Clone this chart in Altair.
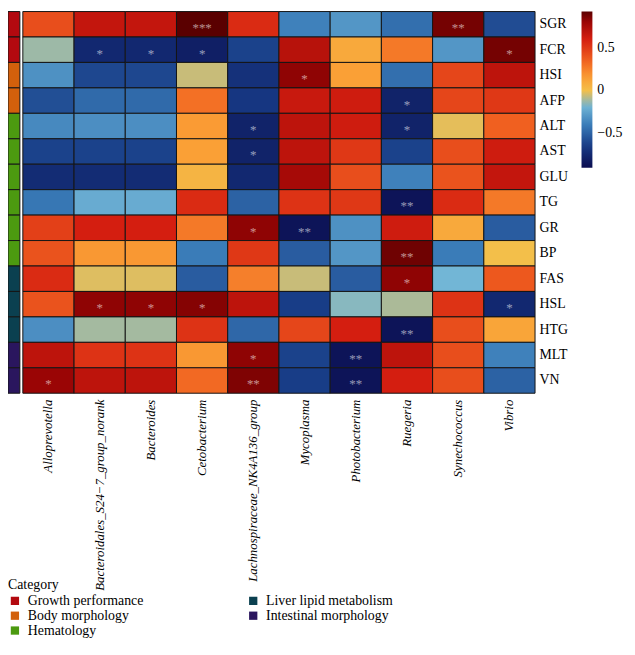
import altair as alt
import pandas as pd

genera = ["Alloprevotella", "Bacteroidales_S24−7_group_norank", "Bacteroides", "Cetobacterium",
          "Lachnospiraceae_NK4A136_group", "Mycoplasma", "Photobacterium", "Ruegeria",
          "Synechococcus", "Vibrio"]
indices = ["SGR", "FCR", "HSI", "AFP", "ALT", "AST", "GLU", "TG", "GR", "BP",
           "FAS", "HSL", "HTG", "MLT", "VN"]
row_category = (["Growth performance"] * 2 + ["Body morphology"] * 2 + ["Hematology"] * 6
                + ["Liver lipid metabolism"] * 3 + ["Intestinal morphology"] * 2)

# correlation values per index (columns in the order of `genera`)
r_SGR = [0.42, 0.66, 0.66, 0.92, 0.55, -0.38, -0.30, -0.45, 0.87, -0.58]
r_FCR = [-0.12, -0.75, -0.75, -0.80, -0.62, 0.70, 0.10, 0.27, -0.30, 0.87]
r_HSI = [-0.32, -0.60, -0.60, -0.06, -0.70, 0.82, 0.14, -0.45, 0.45, 0.68]
r_AFP = [-0.57, -0.47, -0.47, 0.30, -0.67, 0.64, 0.62, -0.78, 0.45, 0.50]
r_ALT = [-0.35, -0.33, -0.33, 0.16, -0.78, 0.68, 0.62, -0.78, -0.02, 0.35]
r_AST = [-0.62, -0.62, -0.62, 0.14, -0.78, 0.68, 0.50, -0.62, 0.42, 0.62]
r_GLU = [-0.73, -0.73, -0.73, 0.05, -0.75, 0.76, 0.42, -0.38, 0.40, 0.66]
r_TG = [-0.42, -0.22, -0.22, 0.55, -0.50, 0.52, 0.50, -0.86, 0.55, 0.27]
r_GR = [0.47, 0.60, 0.60, 0.27, 0.82, -0.86, -0.32, 0.62, 0.10, -0.52]
r_BP = [0.40, 0.17, 0.17, -0.40, 0.50, -0.52, -0.30, 0.88, -0.40, 0.00]
r_FAS = [0.55, -0.03, -0.03, -0.52, 0.25, -0.06, -0.52, 0.82, -0.18, 0.38]
r_HSL = [0.40, 0.82, 0.82, 0.84, 0.68, -0.64, -0.15, -0.10, 0.52, -0.75]
r_HTG = [-0.33, -0.11, -0.11, 0.52, -0.48, 0.45, 0.60, -0.86, 0.42, 0.12]
r_MLT = [0.68, 0.52, 0.52, 0.17, 0.82, -0.62, -0.86, 0.68, 0.42, -0.38]
r_VN = [0.80, 0.68, 0.68, 0.32, 0.85, -0.64, -0.86, 0.60, 0.42, -0.50]
rows_values = [r_SGR, r_FCR, r_HSI, r_AFP, r_ALT, r_AST, r_GLU, r_TG, r_GR, r_BP,
               r_FAS, r_HSL, r_HTG, r_MLT, r_VN]

stars = [
    ("SGR", "Cetobacterium", "***"), ("SGR", "Synechococcus", "**"),
    ("FCR", "Bacteroidales_S24−7_group_norank", "*"), ("FCR", "Bacteroides", "*"),
    ("FCR", "Cetobacterium", "*"), ("FCR", "Vibrio", "*"),
    ("HSI", "Mycoplasma", "*"),
    ("AFP", "Ruegeria", "*"),
    ("ALT", "Lachnospiraceae_NK4A136_group", "*"), ("ALT", "Ruegeria", "*"),
    ("AST", "Lachnospiraceae_NK4A136_group", "*"),
    ("TG", "Ruegeria", "**"),
    ("GR", "Lachnospiraceae_NK4A136_group", "*"), ("GR", "Mycoplasma", "**"),
    ("BP", "Ruegeria", "**"),
    ("FAS", "Ruegeria", "*"),
    ("HSL", "Bacteroidales_S24−7_group_norank", "*"), ("HSL", "Bacteroides", "*"),
    ("HSL", "Cetobacterium", "*"), ("HSL", "Vibrio", "*"),
    ("HTG", "Ruegeria", "**"),
    ("MLT", "Lachnospiraceae_NK4A136_group", "*"), ("MLT", "Photobacterium", "**"),
    ("VN", "Alloprevotella", "*"), ("VN", "Lachnospiraceae_NK4A136_group", "**"),
    ("VN", "Photobacterium", "**"),
]

category_order = ["Growth performance", "Body morphology", "Hematology",
                  "Liver lipid metabolism", "Intestinal morphology"]
category_colors = ["#B3090F", "#D2600C", "#4C9A10", "#0B4050", "#2A165E"]

color_stops = [-0.9, -0.65, -0.4, -0.18, 0.0, 0.15, 0.35, 0.6, 0.8, 0.92]
color_range = ["#0b0d50", "#173a85", "#3a7cb8", "#72b6d6", "#f3bf4a", "#fa9e35",
               "#f06020", "#d41e10", "#9a0505", "#5a0000"]

heat_df = pd.DataFrame([
    {"index": idx, "genus": g, "r": v}
    for idx, vals in zip(indices, rows_values)
    for g, v in zip(genera, vals)
])
cat_df = pd.DataFrame({"index": indices, "category": row_category})
star_df = pd.DataFrame(stars, columns=["index", "genus", "stars"])

SERIF = "Liberation Serif"

x_enc = alt.X("genus:N", sort=genera, scale=alt.Scale(paddingInner=0, paddingOuter=0),
              axis=alt.Axis(orient="bottom", labelAngle=270, labelFont=SERIF,
                            labelFontStyle="italic", labelFontSize=13, labelColor="#000",
                            ticks=False, domain=False, labelPadding=6, labelLimit=400,
                            title=None))
y_enc = alt.Y("index:N", sort=indices, scale=alt.Scale(paddingInner=0, paddingOuter=0),
              axis=alt.Axis(orient="right", labelFont=SERIF, labelFontSize=14,
                            labelColor="#000", ticks=False, domain=False, labelPadding=4,
                            title=None))

heat = alt.Chart(heat_df).mark_rect(stroke="#151515", strokeWidth=1).encode(
    x=x_enc,
    y=y_enc,
    fill=alt.Fill("r:Q",
                  scale=alt.Scale(domain=color_stops, range=color_range, nice=False,
                                  zero=False, interpolate="rgb"),
                  legend=alt.Legend(orient="none", legendX=565, legendY=0, direction="vertical",
                                    gradientLength=158, gradientThickness=11,
                                    gradientStrokeWidth=0, values=[-0.5, 0, 0.5],
                                    format=".1~f",
                                    labelFont=SERIF, labelFontSize=14, labelColor="#000",
                                    labelOffset=5, title=None)),
)

strip = alt.Chart(cat_df).mark_rect(stroke="#151515", strokeWidth=1).encode(
    y=alt.Y("index:N", sort=indices),
    x=alt.value(-15),
    x2=alt.value(-3),
    color=alt.Color("category:N",
                    scale=alt.Scale(domain=category_order, range=category_colors),
                    legend=alt.Legend(orient="none", legendX=-15, legendY=573, columns=2,
                                      title="Category", titleFont=SERIF, titleFontSize=14,
                                      titleFontWeight="normal", titleColor="#000",
                                      titlePadding=2, labelFont=SERIF, labelFontSize=14,
                                      labelColor="#000", symbolType="square", symbolSize=70,
                                      symbolStrokeWidth=0, symbolOpacity=1,
                                      columnPadding=103, rowPadding=1, labelOffset=6)),
)

star_text = alt.Chart(star_df).mark_text(color="white", opacity=0.55, fontSize=13, dy=4,
                                         font=SERIF).encode(
    x=alt.X("genus:N", sort=genera),
    y=alt.Y("index:N", sort=indices),
    text="stars:N",
)

chart = alt.layer(heat, strip, star_text).properties(
    width=518,
    height=386,
    autosize=alt.AutoSizeParams(type="none"),
    padding={"left": 15, "top": 0, "right": 93, "bottom": 248},
).configure_view(stroke=None)

chart.save("out.html", embed_options={"renderer": "svg", "actions": False})
